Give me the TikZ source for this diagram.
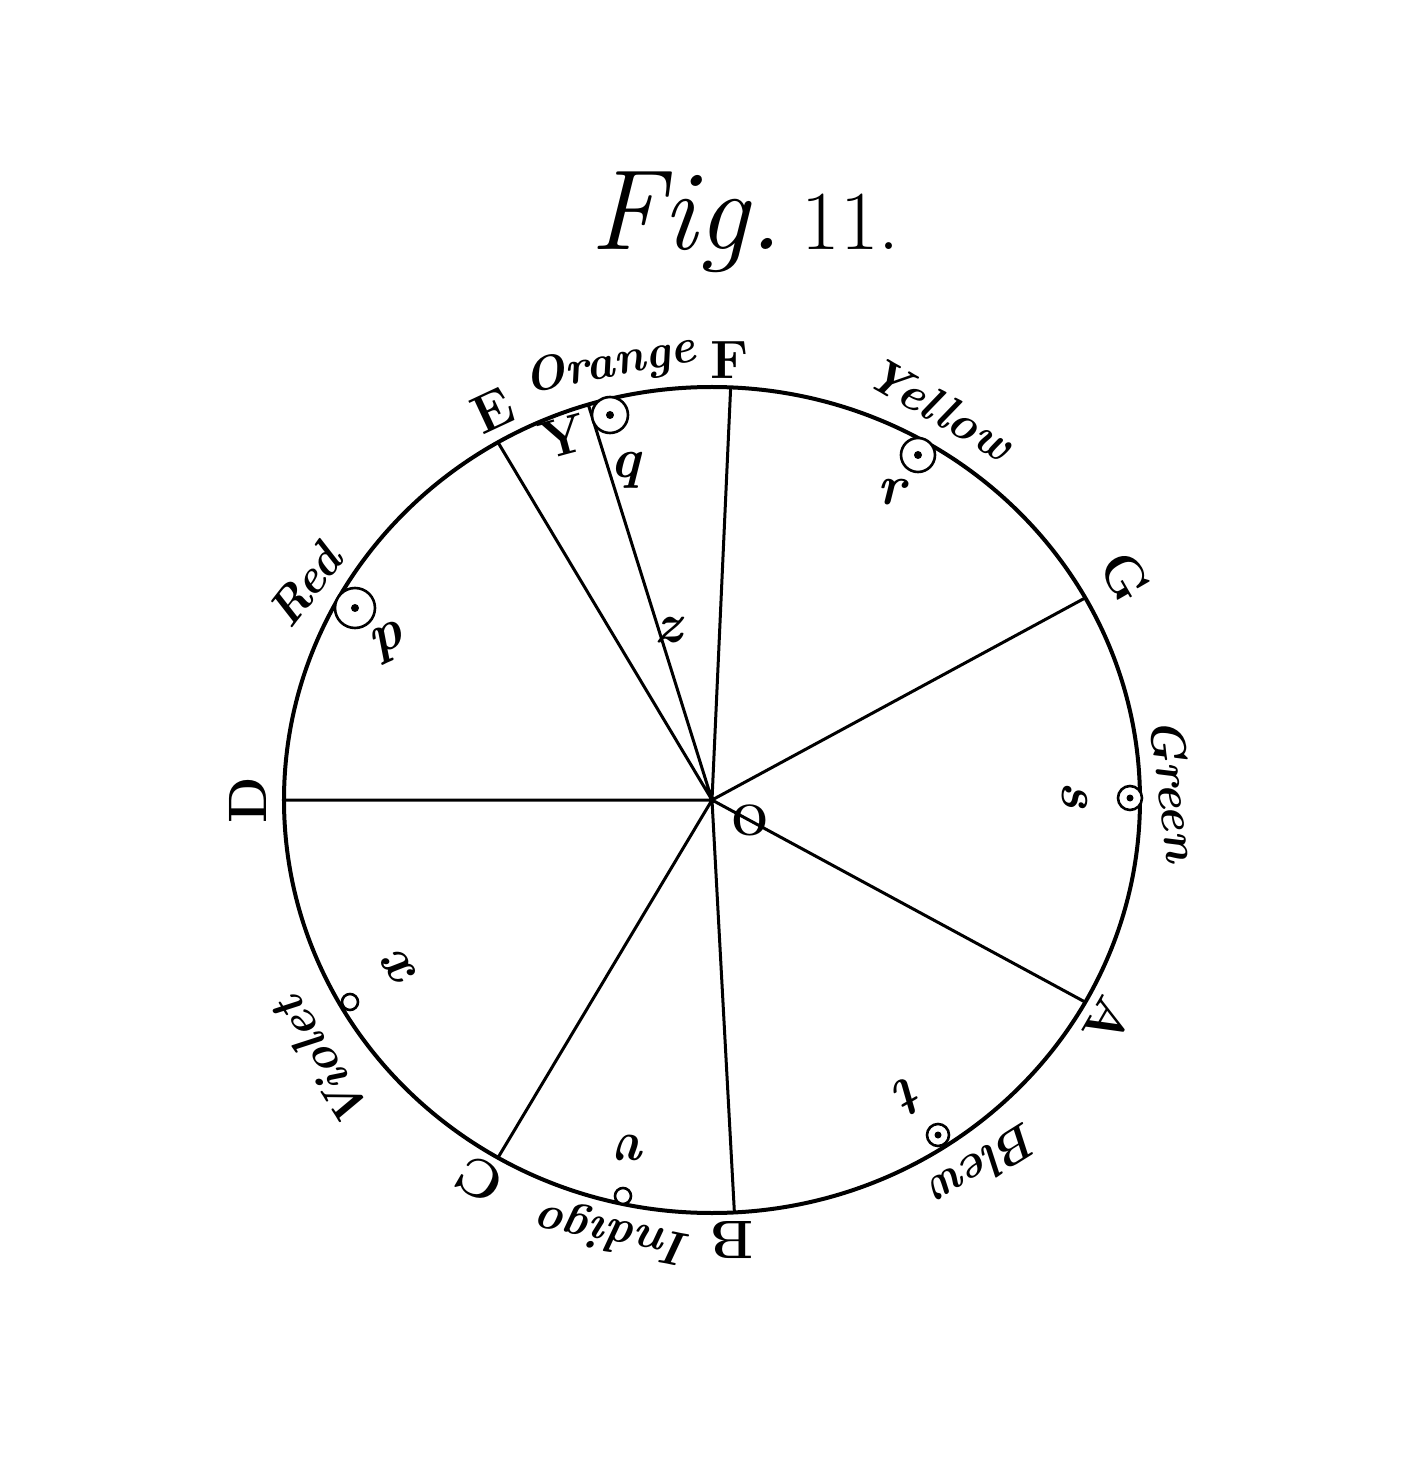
\documentclass[tikz,border=0pt]{standalone}
\usepackage{fontspec}

\begin{document}
\begin{tikzpicture}[x=0.5pt,y=0.5pt,
	caplabel/.style={font=\fontsize{27}{27}\selectfont\bfseries, inner sep=0pt},
	colourlabel/.style={font=\fontsize{24}{24}\selectfont\bfseries\itshape, inner sep=0pt},
	gravlabel/.style={font=\fontsize{28}{28}\selectfont\bfseries\itshape, inner sep=0pt},
	rim/.style={line width=2pt},
	spoke/.style={line width=1.5pt},
	gravity/.style={line width=1.3pt}]
	\useasboundingbox (-712,-672) rectangle (700,800);
	\def\rx{428}
	\def\ry{413}

	\coordinate (O) at (0,0);
	\coordinate (D) at ({\rx*cos(180)},{\ry*sin(180)});
	\coordinate (E) at ({\rx*cos(120)},{\ry*sin(120)});
	\coordinate (Y) at ({\rx*cos(106.8)},{\ry*sin(106.8)});
	\coordinate (F) at ({\rx*cos(87.5)},{\ry*sin(87.5)});
	\coordinate (G) at ({\rx*cos(29.3)},{\ry*sin(29.3)});
	\coordinate (A) at ({\rx*cos(-29.3)},{\ry*sin(-29.3)});
	\coordinate (B) at ({\rx*cos(-87)},{\ry*sin(-87)});
	\coordinate (C) at ({\rx*cos(-120)},{\ry*sin(-120)});

	\node[anchor=base] (title) at (33,550) {\fontsize{57}{57}\selectfont\itshape Fig.\,{\upshape\fontsize{42}{42}\selectfont 11.}};

	\draw[rim] (O) ellipse [x radius=\rx, y radius=\ry];
	\draw[spoke] (O) -- (D) (O) -- (E) (O) -- (Y) (O) -- (F) (O) -- (G) (O) -- (A) (O) -- (B) (O) -- (C);

	\coordinate (p) at (-357,192);
	\coordinate (q) at (-102,385);
	\coordinate (r) at (206,345);
	\coordinate (s) at (418,2);
	\coordinate (t) at (226,-335);
	\coordinate (v) at (-89,-396);
	\coordinate (x) at (-362,-202);
	\draw[gravity, fill=white] (p) circle (20) (q) circle (18) (r) circle (17) (s) circle (12) (t) circle (11) (v) circle (8) (x) circle (8);
	\fill (p) circle (4) (q) circle (4) (r) circle (4) (s) circle (3.5) (t) circle (3.5);

	\node[caplabel, rotate=90] (Dlabel) at (-464,0) {D};
	\node[caplabel, rotate=25] (Elabel) at (-219,390) {E};
	\node[caplabel, rotate=15] (Ylabel) at (-149,363) {Y};
	\node[caplabel] (Flabel) at (18,440) {F};
	\node[caplabel, rotate=-60] (Glabel) at (413,223) {G};
	\node[caplabel, rotate=-120] (Alabel) at (396,-222) {A};
	\node[caplabel, rotate=180] (Blabel) at (20,-440) {B};
	\node[caplabel, rotate=150] (Clabel) at (-232,-380) {C};
	\node[caplabel, font=\fontsize{22}{22}\selectfont\bfseries] (Olabel) at (38,-20) {O};

	\node[colourlabel, rotate=52] (red) at (-407,215) {Red};
	\node[colourlabel, rotate=11] (orange) at (-102,435) {Orange};
	\node[colourlabel, rotate=-30] (yellow) at (228,392) {Yellow};
	\node[colourlabel, rotate=-83] (green) at (463,10) {Green};
	\node[colourlabel, rotate=-148] (blew) at (273,-365) {Blew};
	\node[colourlabel, rotate=169] (indigo) at (-97,-432) {Indigo};
	\node[colourlabel, rotate=122] (violet) at (-390,-262) {Violet};

	\node[gravlabel, rotate=25] (plabel) at (-324,157) {p};
	\node[gravlabel] (qlabel) at (-87,330) {q};
	\node[gravlabel] (rlabel) at (180,308) {r};
	\node[gravlabel, rotate=-90] (slabel) at (363,5) {s};
	\node[gravlabel, rotate=-150] (tlabel) at (198,-295) {t};
	\node[gravlabel, rotate=180] (vlabel) at (-79,-348) {v};
	\node[gravlabel, rotate=125] (xlabel) at (-312,-170) {x};
	\node[gravlabel] (zlabel) at (-44,170) {z};
\end{tikzpicture}
\end{document}
